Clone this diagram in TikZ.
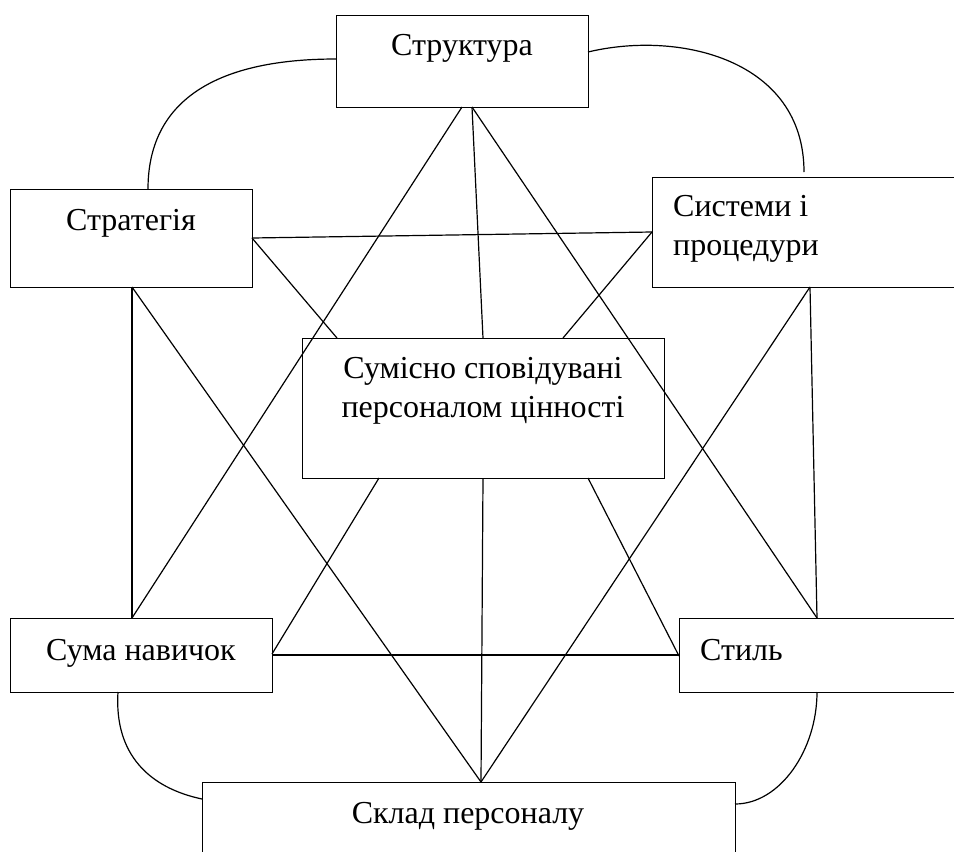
\documentclass[tikz,border=0pt]{standalone}
\usepackage{fontspec}
\setmainfont{Liberation Serif}
\usetikzlibrary{calc}
\begin{document}
\begin{tikzpicture}[x=1pt,y=-1pt,
  box/.style={draw,line width=1.3pt,rectangle,inner sep=0pt,anchor=north west},
  lbl/.style={inner sep=0pt,font=\fontsize{32}{38.5}\selectfont},
  link/.style={line width=1.2pt}]
\clip (0,0) rectangle (954,852);
% boxes
\node[box,minimum width=252pt,minimum height=92pt] (str) at (336,15) {};
\node[box,minimum width=242pt,minimum height=98pt] (strat) at (10,189) {};
\node[box,minimum width=400pt,minimum height=110pt] (sys) at (652,177) {};
\node[box,minimum width=362pt,minimum height=140pt] (sum) at (302,338) {};
\node[box,minimum width=262pt,minimum height=74pt] (skills) at (10,618) {};
\node[box,minimum width=400pt,minimum height=74pt] (style) at (679,618) {};
\node[box,minimum width=533pt,minimum height=200pt] (sklad) at (202,782) {};
% texts
\node[lbl,anchor=base] (strT) at (462,55) {Структура};
\node[lbl,anchor=base] (stratT) at (131,230) {Стратегія};
\node[lbl,anchor=base west,align=left] (sysT) at (673,255) {Системи і\\процедури};
\node[lbl,anchor=base,align=center] (sumT) at (483,417) {Сумісно сповідувані\\персоналом цінності};
\node[lbl,anchor=base] (skillsT) at (141,660) {Сума навичок};
\node[lbl,anchor=base west] (styleT) at (700,660) {Стиль};
\node[lbl,anchor=base] (skladT) at (468,823) {Склад персоналу};
% straight connectors
\draw[link] ($(str.north west)+(126,92)$) -- ($(skills.north west)+(122,0)$);
\draw[link] ($(str.north west)+(136,92)$) -- ($(sum.north west)+(181,0)$);
\draw[link] ($(str.north west)+(136,92)$) -- ($(style.north west)+(138,0)$);
\draw[link] ($(strat.north west)+(242,49)$) -- ($(sys.north west)+(0,55)$);
\draw[link] ($(strat.north west)+(242,49)$) -- ($(sum.north west)+(35,0)$);
\draw[link] ($(strat.north west)+(122,98)$) -- ($(skills.north west)+(122,0)$);
\draw[link] ($(strat.north west)+(122,98)$) -- ($(sklad.north west)+(279,0)$);
\draw[link] ($(sys.north west)+(0,55)$) -- ($(sum.north west)+(261,0)$);
\draw[link] ($(sys.north west)+(158,110)$) -- ($(sklad.north west)+(279,0)$);
\draw[link] ($(sys.north west)+(158,110)$) -- ($(style.north west)+(138,0)$);
\draw[link] ($(sum.north west)+(77,140)$) -- ($(skills.north west)+(262,36)$);
\draw[link] ($(sum.north west)+(181,140)$) -- ($(sklad.north west)+(279,0)$);
\draw[link] ($(sum.north west)+(286,140)$) -- ($(style.north west)+(0,38)$);
\draw[link] ($(skills.north west)+(262,37)$) -- ($(style.north west)+(0,37)$);
% curved connectors
\coordinate (sysGap) at ($(sys.north west)+(152,-5)$);
\draw[link] ($(str.north west)+(0,44)$) .. controls (211,59) and (148,104) .. ($(strat.north west)+(138,0)$);
\draw[link] ($(str.north west)+(252,37)$) .. controls (680,30) and (804,60) .. (sysGap);
\draw[link] ($(skills.north west)+(108,74)$) .. controls (114,755) and (150,788) .. ($(sklad.north west)+(0,17)$);
\draw[link] ($(style.north west)+(138,74)$) .. controls (817,750) and (780,804) .. ($(sklad.north west)+(533,22)$);
\end{tikzpicture}
\end{document}
